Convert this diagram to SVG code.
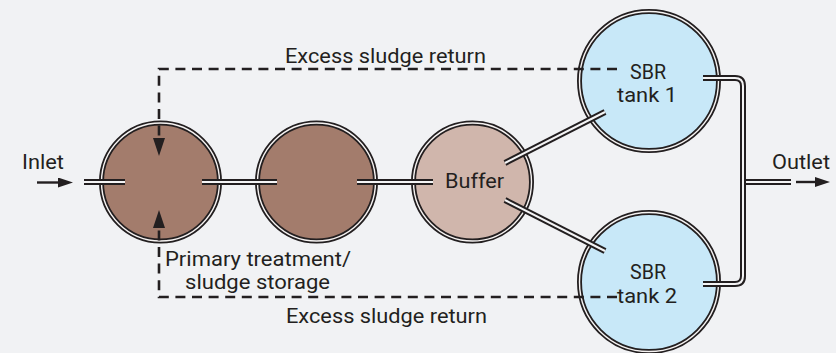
<svg xmlns="http://www.w3.org/2000/svg" width="836" height="353" viewBox="0 0 836 353">
<style>
.bg{fill:#f1f2f4}
.ring{stroke:#231f20;stroke-width:5}
.gap{fill:none;stroke:#f6f3f2;stroke-width:1.4}
.brown{fill:#a37c6c}
.buffer{fill:#d0b6ac}
.sbr{fill:#c8e8f8}
.pipe{fill:none;stroke:#231f20;stroke-width:6}
.pipein{fill:none;stroke:#f4f4f5;stroke-width:2}
.dash{fill:none;stroke:#231f20;stroke-width:2.6;stroke-dasharray:10 6.6}
.arrow{fill:none;stroke:#231f20;stroke-width:2.4}
text{font-family:Roboto,"Noto Sans","Liberation Sans",sans-serif;font-size:20px;fill:#231f20}
</style>
<defs>
<marker id="ah" markerUnits="userSpaceOnUse" viewBox="0 0 18 12" markerWidth="18" markerHeight="12" refX="0" refY="6" orient="auto">
<path d="M0,0 L18,6 L0,12 Z" fill="#231f20"/>
</marker>
<marker id="ah2" markerUnits="userSpaceOnUse" viewBox="0 0 18 12" markerWidth="18" markerHeight="10" refX="0" refY="6" orient="auto">
<path d="M0,0 L18,6 L0,12 Z" fill="#231f20"/>
</marker>
</defs>
<rect class="bg" x="0" y="0" width="836" height="353"/>

<g id="primary1">
<circle class="brown ring" cx="160.5" cy="182" r="59"/>
<circle class="gap" cx="160.5" cy="182" r="59"/>
</g>
<g id="primary2">
<circle class="brown ring" cx="316.5" cy="182" r="59"/>
<circle class="gap" cx="316.5" cy="182" r="59"/>
</g>
<g id="primary-label">
<text x="165" y="266" textLength="186" lengthAdjust="spacingAndGlyphs">Primary treatment/</text>
<text x="185" y="289" textLength="145" lengthAdjust="spacingAndGlyphs">sludge storage</text>
</g>
<g id="buffer">
<circle class="buffer ring" cx="472.5" cy="182" r="59"/>
<circle class="gap" cx="472.5" cy="182" r="59"/>
<text x="445" y="188" textLength="59" lengthAdjust="spacingAndGlyphs">Buffer</text>
</g>
<g id="sbr1">
<circle class="sbr ring" cx="649" cy="81" r="69.5"/>
<circle class="gap" cx="649" cy="81" r="69.5"/>
<text x="630" y="79" textLength="36" lengthAdjust="spacingAndGlyphs">SBR</text>
<text x="617" y="102" textLength="60" lengthAdjust="spacingAndGlyphs">tank 1</text>
</g>
<g id="sbr2">
<circle class="sbr ring" cx="649" cy="282" r="69.5"/>
<circle class="gap" cx="649" cy="282" r="69.5"/>
<text x="630" y="279" textLength="36" lengthAdjust="spacingAndGlyphs">SBR</text>
<text x="617" y="303" textLength="60" lengthAdjust="spacingAndGlyphs">tank 2</text>
</g>
<g id="inlet">
<text x="22" y="169" textLength="42" lengthAdjust="spacingAndGlyphs">Inlet</text>
</g>
<g id="outlet">
<text x="772" y="169" textLength="58" lengthAdjust="spacingAndGlyphs">Outlet</text>
</g>
<g id="return-labels">
<text x="285" y="63" textLength="201" lengthAdjust="spacingAndGlyphs">Excess sludge return</text>
<text x="286" y="323" textLength="201" lengthAdjust="spacingAndGlyphs">Excess sludge return</text>
</g>

<g id="connectors">
<g id="pipes-outer">
<path class="pipe" d="M84 182 H125"/>
<path class="pipe" d="M202 182 H277"/>
<path class="pipe" d="M357 182 H433"/>
<path class="pipe" d="M505 163 L605 112"/>
<path class="pipe" d="M505 200 L605 251"/>
<path class="pipe" d="M703 78 H735 Q743 78 743 86 V276 Q743 284 735 284 H703"/>
<path class="pipe" d="M743 182 H791"/>
</g>
<g id="pipes-inner">
<path class="pipein" d="M84 182 H125"/>
<path class="pipein" d="M202 182 H277"/>
<path class="pipein" d="M357 182 H433"/>
<path class="pipein" d="M505 163 L605 112"/>
<path class="pipein" d="M505 200 L605 251"/>
<path class="pipein" d="M703 78 H735 Q743 78 743 86 V276 Q743 284 735 284 H703"/>
<path class="pipein" d="M746 182 H791"/>
</g>
<path class="dash" d="M617 69 H159 V138" marker-end="url(#ah)"/>
<path class="dash" d="M617 297 H159 V228" marker-end="url(#ah)"/>
<path class="arrow" d="M37 182.5 H58" marker-end="url(#ah2)"/>
<path class="arrow" d="M796 182 H815" marker-end="url(#ah2)"/>
</g>
</svg>
